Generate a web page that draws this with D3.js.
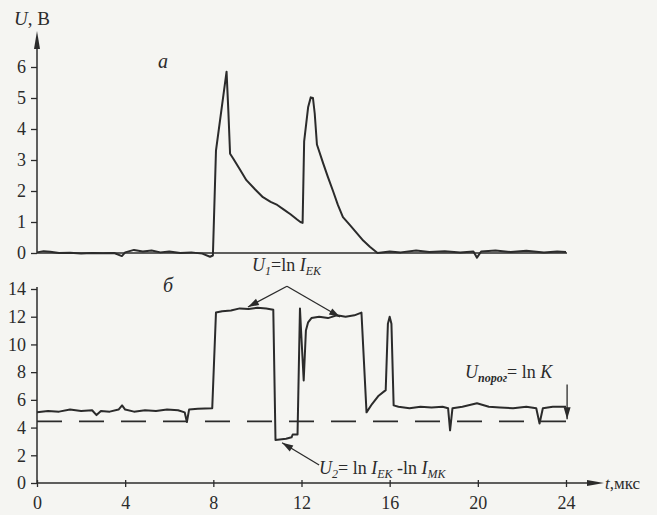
<!DOCTYPE html>
<html><head><meta charset="utf-8">
<script src="https://cdn.jsdelivr.net/npm/d3@7"></script>
<style>
html,body{margin:0;padding:0;background:#f5f5f2;}
svg{display:block;font-family:"Liberation Serif","Times New Roman",serif;}
text{font-family:"Liberation Serif","Times New Roman",serif;}
</style></head><body>
<svg id="chart" width="657" height="515"></svg>
<script>
// Panel а: U1 = ln I_EK (V) versus t (µs)
const timeA  = [0,0.3,0.6,1.0,1.5,2.0,2.5,3.0,3.5,3.85,4.0,4.4,4.8,5.2,5.6,6.0,6.5,7.0,7.5,7.85,7.98,8.12,8.6,8.68,8.76,8.9,9.2,9.5,9.9,10.25,10.6,10.9,11.2,11.5,11.8,11.95,12.05,12.12,12.3,12.42,12.52,12.6,12.7,12.98,13.2,13.43,13.65,13.88,14.2,14.5,14.8,15.1,15.45,16.0,16.5,17.2,17.8,18.5,19.2,19.8,19.96,20.15,20.8,21.5,22.2,23.0,23.6,24.0];
const valueA = [0.02,0.06,0.04,0.0,0.01,-0.02,0.0,-0.01,0.0,-0.1,0.02,0.1,0.05,0.08,0.02,0.05,0.0,0.02,-0.02,-0.12,-0.08,3.3,5.85,4.6,3.2,3.05,2.7,2.35,2.05,1.8,1.65,1.55,1.4,1.25,1.08,1.0,0.97,3.6,4.7,5.02,5.0,4.5,3.5,2.9,2.45,2.0,1.55,1.16,0.9,0.65,0.4,0.2,0.0,0.05,0.02,0.08,0.03,0.06,0.02,0.05,-0.15,0.05,0.08,0.03,0.07,0.02,0.05,0.03];

// Panel б: U2 = ln I_EK - ln I_MK (V) versus t (µs)
const timeB  = [0,0.5,1.0,1.5,2.0,2.5,2.7,2.9,3.3,3.7,3.86,4.0,4.4,4.9,5.4,5.9,6.4,6.7,6.8,6.9,7.3,7.95,8.12,8.4,8.8,9.2,9.6,10.0,10.4,10.72,10.82,11.3,11.55,11.6,11.82,11.93,11.98,12.1,12.2,12.3,12.45,12.8,13.2,13.6,14.0,14.4,14.72,14.95,15.2,15.5,15.82,15.92,16.0,16.08,16.18,16.4,16.9,17.4,17.9,18.4,18.65,18.74,18.85,19.3,19.96,20.5,21.0,21.6,22.2,22.65,22.8,22.95,23.4,24.0];
const valueB = [5.1,5.2,5.15,5.3,5.2,5.25,4.9,5.2,5.15,5.3,5.6,5.3,5.15,5.25,5.2,5.3,5.25,5.1,4.4,5.3,5.35,5.4,12.3,12.4,12.45,12.6,12.55,12.65,12.6,12.5,3.1,3.2,3.3,3.5,3.5,12.6,11.0,7.4,11.0,11.6,11.9,12.0,11.9,12.1,12.0,12.1,12.3,5.1,5.7,6.3,6.7,11.5,12.0,11.5,5.6,5.5,5.4,5.5,5.45,5.5,5.4,3.8,5.4,5.5,5.75,5.5,5.45,5.4,5.5,5.4,4.3,5.4,5.5,5.5];

const threshold = 4.45;          // U_порог = ln K
const ticksX  = [0,4,8,12,16,20,24];
const ticksYA = [0,1,2,3,4,5,6];
const ticksYB = [0,2,4,6,8,10,12,14];

const ink = "#2b2b2b";
const FONT = '"Liberation Serif","Times New Roman",serif';
const svg = d3.select("#chart");
const x  = d3.scaleLinear().domain([0,24]).range([37,566]);
const yA = d3.scaleLinear().domain([0,6]).range([253,67]);
const yB = d3.scaleLinear().domain([0,14]).range([483,289]);

function styleAxis(g){
  g.attr("font-family",FONT).attr("font-size",18);
  g.select(".domain").remove();
  g.selectAll(".tick line").attr("stroke",ink).attr("stroke-width",1.3);
  g.selectAll(".tick text").attr("fill",ink).attr("font-family",FONT).style("font-size","18px");
}
const fmt = d3.format("d");

// ---- Panel а axes
svg.append("line").attr("x1",x(0)).attr("x2",x(0)).attr("y1",40).attr("y2",yA(0))
  .attr("stroke",ink).attr("stroke-width",1.5);
svg.append("path").attr("d",`M${x(0)},31 L${x(0)-3},49 L${x(0)+3},49 Z`).attr("fill",ink);
svg.append("line").attr("x1",x(0)).attr("x2",x(24)+1).attr("y1",yA(0)).attr("y2",yA(0))
  .attr("stroke",ink).attr("stroke-width",1.3);
svg.append("g").attr("transform",`translate(${x(0)},0)`)
  .call(d3.axisLeft(yA).tickValues(ticksYA).tickFormat(fmt).tickSize(6).tickPadding(5)).call(styleAxis);

// ---- Panel б axes
svg.append("line").attr("x1",x(0)).attr("x2",x(0)).attr("y1",yB(14)-2).attr("y2",yB(0))
  .attr("stroke",ink).attr("stroke-width",1.5);
svg.append("line").attr("x1",x(0)).attr("x2",596).attr("y1",yB(0)).attr("y2",yB(0))
  .attr("stroke",ink).attr("stroke-width",1.5);
svg.append("path").attr("d",`M604,${yB(0)} L587,${yB(0)-3} L587,${yB(0)+3} Z`).attr("fill",ink);
svg.append("g").attr("transform",`translate(${x(0)},0)`)
  .call(d3.axisLeft(yB).tickValues(ticksYB).tickFormat(fmt).tickSize(6).tickPadding(5)).call(styleAxis);
const gx = svg.append("g").attr("transform",`translate(0,${yB(0)})`)
  .call(d3.axisBottom(x).tickValues(ticksX).tickFormat(fmt).tickSize(4).tickPadding(9)).call(styleAxis);
gx.selectAll(".tick line").attr("y1",-3).attr("y2",4);

// ---- threshold dashed line
svg.append("line").attr("x1",x(0)).attr("x2",x(24)).attr("y1",yB(threshold)).attr("y2",yB(threshold))
  .attr("stroke",ink).attr("stroke-width",1.6).attr("stroke-dasharray","25,17");

// ---- data lines
const lineA = d3.line().x((d,i)=>x(timeA[i])).y(d=>yA(d));
const lineB = d3.line().x((d,i)=>x(timeB[i])).y(d=>yB(d));
svg.append("path").attr("d",lineA(valueA)).attr("fill","none").attr("stroke",ink)
  .attr("stroke-width",2).attr("stroke-linejoin","round");
svg.append("path").attr("d",lineB(valueB)).attr("fill","none").attr("stroke",ink)
  .attr("stroke-width",2).attr("stroke-linejoin","round");

// ---- annotation arrows (in data coordinates of panel б)
function arrow(t0,v0,t1,v1,head){
  const X0=x(t0),Y0=yB(v0),X1=x(t1),Y1=yB(v1);
  svg.append("line").attr("x1",X0).attr("y1",Y0).attr("x2",X1).attr("y2",Y1)
    .attr("stroke",ink).attr("stroke-width",1.3);
  const a=Math.atan2(Y1-Y0,X1-X0), L=head||11, w=3.5;
  const bx=X1-L*Math.cos(a), by=Y1-L*Math.sin(a);
  svg.append("path").attr("d",`M${X1},${Y1} L${bx-w*Math.sin(a)},${by+w*Math.cos(a)} L${bx+w*Math.sin(a)},${by-w*Math.cos(a)} Z`)
    .attr("fill",ink);
}
arrow(11.34,14.2,9.57,12.7);
arrow(11.34,14.2,13.75,11.98);
arrow(12.8,1.3,11.12,2.9);
arrow(24.05,7.1,24.05,4.6,12);

// ---- texts
function label(xp,yp,parts,size){
  const t=svg.append("text").attr("x",xp).attr("y",yp).attr("fill",ink)
    .attr("font-family",FONT).style("font-size",(size||18)+"px");
  let shift=0;
  parts.forEach(p=>{
    const s=t.append("tspan").text(p.s);
    if(p.i) s.style("font-style","italic");
    if(p.b) s.style("font-weight","bold");
    const target=p.sub?4:0;
    if(target!==shift){ s.attr("dy",target-shift); shift=target; }
    if(p.sub) s.style("font-size","12px");
  });
  return t;
}
label(14,25,[{s:"U",i:1},{s:", В"}],19);
label(158,68,[{s:"а",i:1}],20);
label(163,292,[{s:"б",i:1}],20);
label(252,271,[{s:"U",i:1},{s:"1",i:1,sub:1},{s:"=ln "},{s:"I",i:1},{s:"EK",i:1,sub:1}],18);
label(319,474,[{s:"U",i:1},{s:"2",i:1,sub:1},{s:"= ln "},{s:"I",i:1},{s:"EK",i:1,sub:1},{s:" -ln "},{s:"I",i:1},{s:"MK",i:1,sub:1}],18);
label(465,378,[{s:"U",i:1},{s:"порог",i:1,b:1,sub:1},{s:"= ln "},{s:"K",i:1}],18);
label(605,489,[{s:"t",i:1},{s:",мкс"}],17);
</script>
</body></html>
